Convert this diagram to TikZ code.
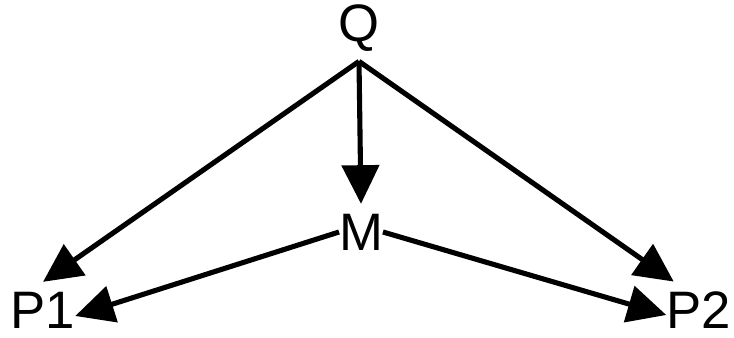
\documentclass[tikz,border=0pt]{standalone}
\usepackage{fontspec}
\setmainfont{Liberation Sans}
\usepackage{tikz}
\usetikzlibrary{arrows.meta}

\begin{document}
\begin{tikzpicture}[
  var/.style={font=\fontsize{30}{36}\selectfont, inner sep=0pt, outer xsep=0pt, outer ysep=0.2cm},
  edge/.style={line width=2.9pt, -{Triangle[length=22pt,width=21pt]}}]
\useasboundingbox (0,0) rectangle (14.68,6.76);
% variables
\node[var] (Q) at (7.18,6.20) {Q};
\node[var] (M) at (7.22,2.12) {M};
\node[var] (P1) at (0.86,0.56) {P1};
\node[var] (P2) at (13.97,0.56) {P2};
% edges
\draw[edge] (Q.south) -- (M.north);
\draw[edge] (Q.south) -- (P1.north);
\draw[edge] (Q.south) -- ([xshift=0.15cm]P2.north west);
\draw[edge] (M.west) -- ([yshift=-0.12cm]P1.east);
\draw[edge] (M.east) -- ([yshift=-0.1cm]P2.west);
\end{tikzpicture}
\end{document}
